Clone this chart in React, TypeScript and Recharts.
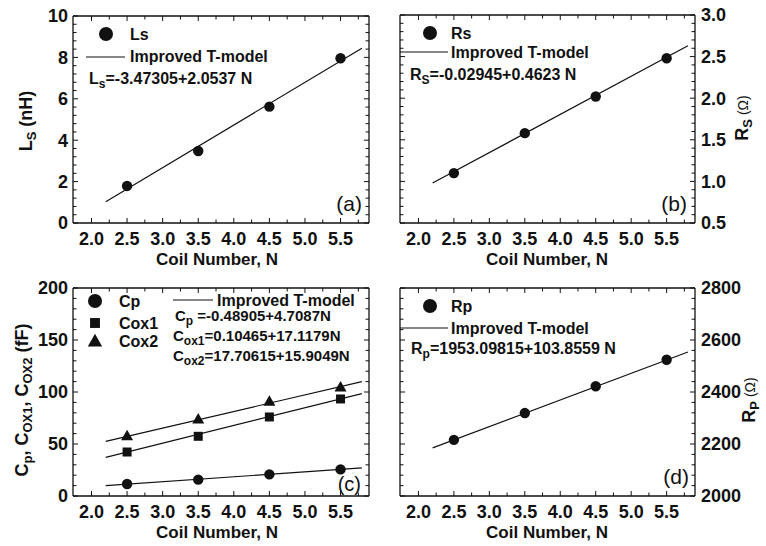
import { ComposedChart, Scatter, Line, XAxis, YAxis } from 'recharts'

const W = 766
const H = 546
const FONT = '"Liberation Sans", Arial, Helvetica, sans-serif'

// coil numbers and fit range
const coilN = [2.5, 3.5, 4.5, 5.5]
const fitN = [2.2, 5.8]
const xTicks = [2.0, 2.25, 2.5, 2.75, 3.0, 3.25, 3.5, 3.75, 4.0, 4.25, 4.5, 4.75, 5.0, 5.25, 5.5, 5.75]
const xMajor = [2.0, 2.5, 3.0, 3.5, 4.0, 4.5, 5.0, 5.5]

// (a) Ls
const lsVals = [1.79, 3.48, 5.62, 7.96]
const lsFit = [1.03, 8.44]
const lsTicks = [0, 0.4, 0.8, 1.2, 1.6, 2, 2.4, 2.8, 3.2, 3.6, 4, 4.4, 4.8, 5.2, 5.6, 6, 6.4, 6.8, 7.2, 7.6, 8, 8.4, 8.8, 9.2, 9.6, 10]
const lsMajor = [0, 2, 4, 6, 8, 10]

// (b) Rs
const rsVals = [1.1, 1.58, 2.02, 2.48]
const rsFit = [0.98, 2.63]
const rsTicks = [0.5, 0.6, 0.7, 0.8, 0.9, 1.0, 1.1, 1.2, 1.3, 1.4, 1.5, 1.6, 1.7, 1.8, 1.9, 2.0, 2.1, 2.2, 2.3, 2.4, 2.5, 2.6, 2.7, 2.8, 2.9, 3.0]
const rsMajor = [0.5, 1.0, 1.5, 2.0, 2.5, 3.0]

// (c) Cp, Cox1, Cox2
const cpVals = [11.5, 15.7, 20.8, 25.6]
const cpFit = [10, 27]
const cox1Vals = [42.3, 57.4, 76, 93.3]
const cox1Fit = [37.2, 98.4]
const cox2Vals = [58, 74, 91, 104.8]
const cox2Fit = [52.6, 110]
const cTicks = [0, 10, 20, 30, 40, 50, 60, 70, 80, 90, 100, 110, 120, 130, 140, 150, 160, 170, 180, 190, 200]
const cMajor = [0, 50, 100, 150, 200]

// (d) Rp
const rpVals = [2216, 2319, 2422, 2524]
const rpFit = [2185, 2554]
const rpTicks = [2000, 2040, 2080, 2120, 2160, 2200, 2240, 2280, 2320, 2360, 2400, 2440, 2480, 2520, 2560, 2600, 2640, 2680, 2720, 2760, 2800]
const rpMajor = [2000, 2200, 2400, 2600, 2800]

type Box = { x0: number; y0: number; x1: number; y1: number }
type Series = { name: string; n: number[]; vals: number[]; fit: number[]; shape: 'circle' | 'square' | 'triangle' }

const pts = (xs: number[], ys: number[]) => xs.map((x, i) => ({ x, y: ys[i] }))
const isIn = (list: number[], v: number) => list.some((m) => Math.abs(m - v) < 1e-6)

function Marker({ cx, cy, shape, s = 1 }: any) {
  if (shape === 'square') return <rect x={cx - 4.5 * s} y={cy - 4.5 * s} width={9 * s} height={9 * s} fill="#111" />
  if (shape === 'triangle')
    return <polygon points={`${cx},${cy - 6 * s} ${cx + 6 * s},${cy + 4.5 * s} ${cx - 6 * s},${cy + 4.5 * s}`} fill="#111" />
  return <circle cx={cx} cy={cy} r={5.2 * s} fill="#111" />
}

function Panel({ box, yDomain, yTicks, yMajor, ySide, fmt, series }: {
  box: Box; yDomain: [number, number]; yTicks: number[]; yMajor: number[]; ySide: 'left' | 'right'; fmt: (v: number) => string; series: Series[]
}) {
  const xTick = (side: 'bottom' | 'top') => (p: any) => {
    const v = p.payload.value
    const major = isIn(xMajor, v)
    const y = side === 'bottom' ? box.y1 : box.y0
    const d = side === 'bottom' ? -1 : 1
    return (
      <g>
        <line x1={p.x} x2={p.x} y1={y} y2={y + d * (major ? 5 : 3.5)} stroke="#111" strokeWidth={1} />
        {side === 'bottom' && major && (
          <text x={p.x} y={box.y1 + 22} textAnchor="middle" fontFamily={FONT} fontWeight="bold" fontSize={18} fill="#111">
            {v.toFixed(1)}
          </text>
        )}
      </g>
    )
  }
  const yTick = (side: 'left' | 'right', label: boolean) => (p: any) => {
    const v = p.payload.value
    const major = isIn(yMajor, v)
    const x = side === 'left' ? box.x0 : box.x1
    const d = side === 'left' ? 1 : -1
    return (
      <g>
        <line x1={x} x2={x + d * (major ? 5 : 3.5)} y1={p.y} y2={p.y} stroke="#111" strokeWidth={1} />
        {label && major && (
          <text
            x={side === 'left' ? box.x0 - 5 : box.x1 + 6}
            y={p.y}
            dy="0.36em"
            textAnchor={side === 'left' ? 'end' : 'start'}
            fontFamily={FONT}
            fontWeight="bold"
            fontSize={18}
            fill="#111"
          >
            {fmt(v)}
          </text>
        )}
      </g>
    )
  }
  const other = ySide === 'left' ? 'right' : 'left'
  const axisLine = { stroke: '#111', strokeWidth: 1.3 }

  // axes take 1px each side, so margins are reduced by one
  return (
    <ComposedChart
      width={W}
      height={H}
      margin={{ left: box.x0 - 1, top: box.y0 - 1, right: W - box.x1 - 1, bottom: H - box.y1 - 1 }}
      style={{ position: 'absolute', left: 0, top: 0 }}
    >
      <XAxis dataKey="x" type="number" domain={[1.74, 5.9]} ticks={xTicks} interval={0} height={1}
        allowDataOverflow axisLine={axisLine} tickLine={false} tick={xTick('bottom')} />
      <XAxis xAxisId="top" orientation="top" dataKey="x" type="number" domain={[1.74, 5.9]} ticks={xTicks} interval={0} height={1}
        allowDataOverflow axisLine={axisLine} tickLine={false} tick={xTick('top')} />
      <YAxis orientation={ySide} type="number" domain={yDomain} ticks={yTicks} interval={0} width={1}
        allowDataOverflow axisLine={axisLine} tickLine={false} tick={yTick(ySide, true)} />
      <YAxis yAxisId="m" orientation={other} type="number" domain={yDomain} ticks={yTicks} interval={0} width={1}
        allowDataOverflow axisLine={axisLine} tickLine={false} tick={yTick(other, false)} />
      {series.map((s) => (
        <Line key={s.name + 'fit'} data={pts(fitN, s.fit)} dataKey="y" stroke="#111" strokeWidth={1.2}
          dot={false} activeDot={false} isAnimationActive={false} />
      ))}
      {series.map((s) => (
        <Scatter key={s.name} data={pts(s.n, s.vals)} dataKey="y" isAnimationActive={false}
          shape={(p: any) => <Marker cx={p.cx} cy={p.cy} shape={s.shape} />} />
      ))}
    </ComposedChart>
  )
}

const txt = { fontFamily: FONT, fontWeight: 'bold' as const, fill: '#111' }

function Overlay() {
  return (
    <svg width={W} height={H} style={{ position: 'absolute', left: 0, top: 0 }}>
      {/* (a) */}
      <Marker cx={106} cy={34} shape="circle" s={1.35} />
      <text x={130} y={40} fontSize={16} {...txt}>Ls</text>
      <line x1={86} x2={125} y1={57} y2={57} stroke="#111" strokeWidth={1.2} />
      <text x={130} y={62} fontSize={16} {...txt}>Improved T-model</text>
      <text x={89} y={84} fontSize={16} {...txt}>L<tspan dy={4} fontSize={12}>s</tspan><tspan dy={-4}>=-3.47305+2.0537 N</tspan></text>
      <text x={362} y={211} fontSize={21} fontFamily={FONT} fill="#111" textAnchor="end">(a)</text>
      <text x={217} y={265} fontSize={17} {...txt} textAnchor="middle">Coil Number, N</text>
      <text transform="translate(32,121) rotate(-90)" fontSize={18} {...txt} textAnchor="middle">
        L<tspan dy={4} fontSize={13}>S</tspan><tspan dy={-4}> (nH)</tspan>
      </text>

      {/* (b) */}
      <Marker cx={430} cy={33} shape="circle" s={1.35} />
      <text x={451} y={39} fontSize={16} {...txt}>Rs</text>
      <line x1={400} x2={448} y1={52} y2={52} stroke="#111" strokeWidth={1.2} />
      <text x={451} y={58} fontSize={16} {...txt}>Improved T-model</text>
      <text x={410} y={80} fontSize={16} {...txt}>R<tspan dy={4} fontSize={12}>S</tspan><tspan dy={-4}>=-0.02945+0.4623 N</tspan></text>
      <text x={687} y={211} fontSize={21} fontFamily={FONT} fill="#111" textAnchor="end">(b)</text>
      <text x={547} y={265} fontSize={17} {...txt} textAnchor="middle">Coil Number, N</text>
      <text transform="translate(748,118) rotate(-90)" fontSize={18} {...txt} textAnchor="middle">
        R<tspan dy={4} fontSize={13}>S</tspan><tspan dy={-4} fontSize={14} fontWeight="normal"> (Ω)</tspan>
      </text>

      {/* (c) */}
      <Marker cx={95} cy={301} shape="circle" s={1.35} />
      <text x={119} y={307} fontSize={16} {...txt}>Cp</text>
      <Marker cx={95} cy={323} shape="square" s={1.1} />
      <text x={119} y={329} fontSize={16} {...txt}>Cox1</text>
      <Marker cx={95} cy={341} shape="triangle" s={1.2} />
      <text x={119} y={347} fontSize={16} {...txt}>Cox2</text>
      <line x1={173} x2={213} y1={300} y2={300} stroke="#111" strokeWidth={1.2} />
      <text x={217} y={306} fontSize={16} {...txt}>Improved T-model</text>
      <text x={175} y={321} fontSize={15} {...txt}>C<tspan dy={4} fontSize={12}>p</tspan><tspan dy={-4}> =-0.48905+4.7087N</tspan></text>
      <text x={173} y={341} fontSize={15} {...txt}>C<tspan dy={4} fontSize={12}>ox1</tspan><tspan dy={-4}>=0.10465+17.1179N</tspan></text>
      <text x={173} y={361} fontSize={15} {...txt}>C<tspan dy={4} fontSize={12}>ox2</tspan><tspan dy={-4}>=17.70615+15.9049N</tspan></text>
      <text x={361} y={491} fontSize={20} fontFamily={FONT} fill="#111" textAnchor="end">(c)</text>
      <text x={217} y={538} fontSize={17} {...txt} textAnchor="middle">Coil Number, N</text>
      <text transform="translate(28,400) rotate(-90)" fontSize={18} {...txt} textAnchor="middle">
        C<tspan dy={4} fontSize={13}>p</tspan><tspan dy={-4}>, C</tspan><tspan dy={4} fontSize={13}>OX1</tspan>
        <tspan dy={-4}>, C</tspan><tspan dy={4} fontSize={13}>OX2</tspan><tspan dy={-4}> (fF)</tspan>
      </text>

      {/* (d) */}
      <Marker cx={430} cy={306} shape="circle" s={1.35} />
      <text x={451} y={312} fontSize={16} {...txt}>Rp</text>
      <line x1={400} x2={448} y1={328} y2={328} stroke="#111" strokeWidth={1.2} />
      <text x={451} y={334} fontSize={16} {...txt}>Improved T-model</text>
      <text x={411} y={354} fontSize={16} {...txt}>R<tspan dy={4} fontSize={12}>p</tspan><tspan dy={-4}>=1953.09815+103.8559 N</tspan></text>
      <text x={689} y={484} fontSize={21} fontFamily={FONT} fill="#111" textAnchor="end">(d)</text>
      <text x={547} y={538} fontSize={17} {...txt} textAnchor="middle">Coil Number, N</text>
      <text transform="translate(755,400) rotate(-90)" fontSize={18} {...txt} textAnchor="middle">
        R<tspan dy={4} fontSize={13}>P</tspan><tspan dy={-4} fontSize={14} fontWeight="normal"> (Ω)</tspan>
      </text>
    </svg>
  )
}

export default function App() {
  return (
    <div style={{ position: 'absolute', left: 0, top: 0, width: W, height: H, background: '#fff' }}>
      <Panel box={{ x0: 73, y0: 16, x1: 369, y1: 223 }} yDomain={[0, 10]} yTicks={lsTicks} yMajor={lsMajor}
        ySide="left" fmt={(v) => String(v)}
        series={[{ name: 'Ls', n: coilN, vals: lsVals, fit: lsFit, shape: 'circle' }]} />
      <Panel box={{ x0: 400, y0: 15, x1: 695, y1: 223 }} yDomain={[0.5, 3]} yTicks={rsTicks} yMajor={rsMajor}
        ySide="right" fmt={(v) => v.toFixed(1)}
        series={[{ name: 'Rs', n: coilN, vals: rsVals, fit: rsFit, shape: 'circle' }]} />
      <Panel box={{ x0: 73, y0: 288, x1: 369, y1: 496 }} yDomain={[0, 200]} yTicks={cTicks} yMajor={cMajor}
        ySide="left" fmt={(v) => String(v)}
        series={[
          { name: 'Cp', n: coilN, vals: cpVals, fit: cpFit, shape: 'circle' },
          { name: 'Cox1', n: coilN, vals: cox1Vals, fit: cox1Fit, shape: 'square' },
          { name: 'Cox2', n: coilN, vals: cox2Vals, fit: cox2Fit, shape: 'triangle' },
        ]} />
      <Panel box={{ x0: 400, y0: 288, x1: 695, y1: 496 }} yDomain={[2000, 2800]} yTicks={rpTicks} yMajor={rpMajor}
        ySide="right" fmt={(v) => String(v)}
        series={[{ name: 'Rp', n: coilN, vals: rpVals, fit: rpFit, shape: 'circle' }]} />
      <Overlay />
    </div>
  )
}
